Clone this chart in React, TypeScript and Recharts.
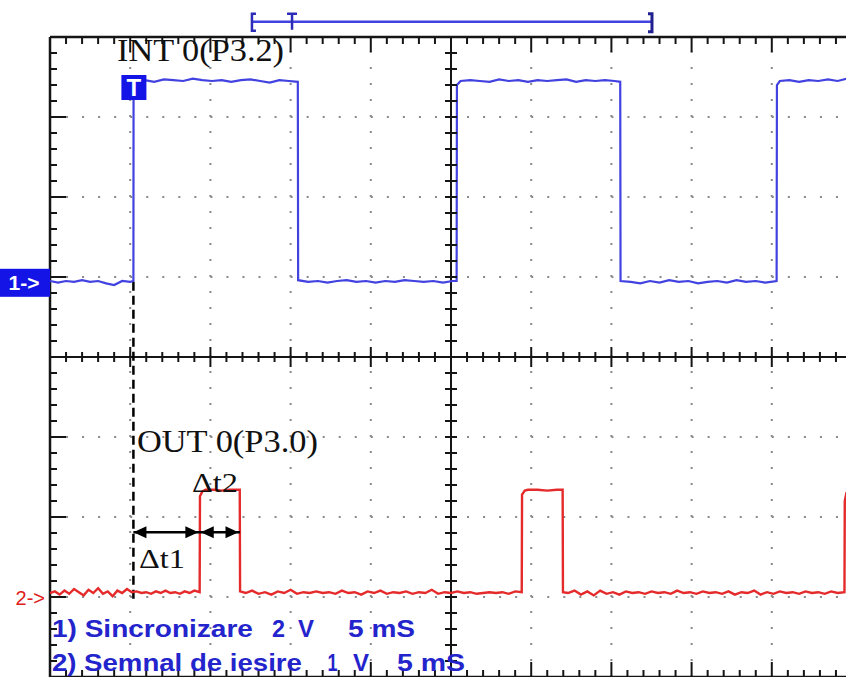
import React from 'react';
import { ComposedChart, Line, XAxis, YAxis, ReferenceLine, ReferenceDot } from 'recharts';

// Time in ms (5 ms / div), level in screen divisions (center = 0)
const ch1Time = [
  0, 0.5, 1.0, 1.5, 2.0, 2.5, 3.0, 3.5, 4.0, 4.5, 5.0, 5.2,
  5.21, 5.3, 5.9, 6.5, 7.1, 7.7, 8.3, 8.9, 9.5, 10.1, 10.7, 11.3, 11.9, 12.5, 13.1, 13.7, 14.3, 14.9, 15.45,
  15.47, 16.1, 16.7, 17.3, 17.9, 18.5, 19.1, 19.7, 20.3, 20.9, 21.5, 22.1, 22.7, 23.3, 23.9, 24.5, 25.1, 25.35,
  25.37, 25.6, 26.2, 26.8, 27.4, 28.0, 28.6, 29.2, 29.8, 30.4, 31.0, 31.6, 32.2, 32.8, 33.4, 34.0, 34.6, 35.2, 35.55,
  35.57, 36.2, 36.8, 37.4, 38.0, 38.6, 39.2, 39.8, 40.4, 41.0, 41.6, 42.2, 42.8, 43.4, 44.0, 44.6, 45.3,
  45.32, 45.5, 46.1, 46.7, 47.3, 47.9, 48.5, 49.1, 49.7, 50,
];
const ch1Level = [
  0.95, 0.93, 0.95, 0.94, 0.96, 0.94, 0.95, 0.92, 0.90, 0.95, 0.94, 0.95,
  3.42, 3.45, 3.46, 3.44, 3.47, 3.46, 3.45, 3.48, 3.46, 3.45, 3.46, 3.44, 3.46, 3.47, 3.45, 3.43, 3.46, 3.45, 3.44,
  0.96, 0.94, 0.95, 0.93, 0.95, 0.96, 0.94, 0.95, 0.93, 0.95, 0.94, 0.96, 0.95, 0.94, 0.95, 0.93, 0.95, 0.95,
  3.40, 3.45, 3.46, 3.45, 3.44, 3.47, 3.45, 3.46, 3.44, 3.46, 3.45, 3.46, 3.47, 3.44, 3.46, 3.45, 3.46, 3.45, 3.44,
  0.95, 0.94, 0.92, 0.95, 0.93, 0.96, 0.94, 0.95, 0.92, 0.94, 0.95, 0.93, 0.96, 0.94, 0.95, 0.93, 0.95,
  3.40, 3.45, 3.46, 3.44, 3.46, 3.45, 3.47, 3.45, 3.48, 3.46,
];

const ch2Time = [
  0, 0.3, 0.6, 0.9, 1.2, 1.5, 1.8, 2.1, 2.4, 2.7, 3.0, 3.3, 3.6, 3.9, 4.2, 4.5, 4.8, 5.1, 5.4, 5.7,
  6.0, 6.3, 6.6, 6.9, 7.2, 7.5, 7.8, 8.1, 8.4, 8.7, 9.0, 9.33,
  9.35, 9.5, 9.7, 10.2, 10.7, 11.2, 11.83,
  11.85, 12.2, 12.6, 13.0, 13.4, 13.8, 14.2, 14.6, 15.0, 15.4, 15.8, 16.2, 16.6, 17.0, 17.4, 17.8, 18.2,
  18.6, 19.0, 19.4, 19.8, 20.2, 20.6, 21.0, 21.4, 21.8, 22.2, 22.6, 23.0, 23.4, 23.8, 24.2, 24.6, 25.0,
  25.4, 25.8, 26.2, 26.6, 27.0, 27.4, 27.8, 28.2, 28.6, 29.0, 29.41,
  29.43, 29.6, 29.8, 30.4, 31.0, 31.6, 31.96,
  31.98, 32.3, 32.7, 33.1, 33.5, 33.9, 34.3, 34.7, 35.1, 35.5, 35.9, 36.3, 36.7, 37.1, 37.5, 37.9, 38.3,
  38.7, 39.1, 39.5, 39.9, 40.3, 40.7, 41.1, 41.5, 41.9, 42.3, 42.7, 43.1, 43.5, 43.9, 44.3, 44.7, 45.1,
  45.5, 45.9, 46.3, 46.7, 47.1, 47.5, 47.9, 48.3, 48.7, 49.1, 49.53,
  49.55, 49.65, 49.8, 50,
];
const ch2Level = [
  -2.95, -2.93, -2.97, -2.92, -2.96, -2.90, -2.94, -2.98, -2.91, -2.95, -2.89, -2.96, -2.93, -2.99, -2.92, -2.95, -2.90, -2.94, -2.93, -2.95,
  -2.94, -2.96, -2.93, -2.95, -2.92, -2.95, -2.94, -2.96, -2.93, -2.95, -2.92, -2.94,
  -1.74, -1.68, -1.66, -1.66, -1.67, -1.66, -1.66,
  -2.93, -2.95, -2.92, -2.96, -2.94, -2.97, -2.93, -2.95, -2.91, -2.96, -2.94, -2.95, -2.93, -2.95, -2.94, -2.96, -2.92,
  -2.95, -2.94, -2.97, -2.93, -2.95, -2.92, -2.96, -2.94, -2.95, -2.93, -2.96, -2.94, -2.95, -2.91, -2.96, -2.94, -2.95,
  -2.93, -2.95, -2.94, -2.96, -2.95, -2.94, -2.95, -2.94, -2.96, -2.93, -2.94,
  -1.72, -1.67, -1.66, -1.66, -1.67, -1.66, -1.66,
  -2.94, -2.95, -2.92, -2.97, -2.93, -2.98, -2.92, -2.96, -2.94, -2.97, -2.93, -2.95, -2.94, -2.96, -2.93, -2.95, -2.94,
  -2.96, -2.92, -2.95, -2.94, -2.96, -2.93, -2.95, -2.94, -2.96, -2.93, -2.97, -2.94, -2.95, -2.92, -2.97, -2.94, -2.96,
  -2.93, -2.95, -2.94, -2.96, -2.93, -2.95, -2.94, -2.96, -2.93, -2.95, -2.94,
  -1.80, -1.70, -1.68, -1.68,
];

const gridTimes = [5, 10, 15, 20, 30, 35, 40, 45];
const gridLevels = [-3, -2, -1, 1, 2, 3];
const triggerTime = 5.2;
const ch1Ground = 0.94;
const ch2Ground = -3.0;

const serifLabels = [
  { text: 'INT 0(P3.2)', t: 4.18, v: 3.70, len: 167, size: 31 },
  { text: 'OUT 0(P3.0)', t: 5.42, v: -1.19, len: 181, size: 31 },
  { text: 'Δt2', t: 8.85, v: -1.69, len: 46, size: 28 },
  { text: 'Δt1', t: 5.55, v: -2.64, len: 46, size: 28 },
];
const legendLabels = [
  { text: '1) Sincronizare', t: 0.12, v: -3.5, len: 201 },
  { text: '2', t: 13.84, v: -3.5, len: 13 },
  { text: 'V', t: 15.46, v: -3.5, len: 16 },
  { text: '5 mS', t: 18.58, v: -3.5, len: 67 },
  { text: '2) Semnal de iesire', t: 0.12, v: -3.93, len: 250 },
  { text: '1', t: 17.3, v: -3.93, len: 10 },
  { text: 'V', t: 18.89, v: -3.93, len: 16 },
  { text: '5 mS', t: 21.63, v: -3.93, len: 68 },
];
const bracket = { start: 12.59, mark: 15.09, end: 37.53, level: 4.19 };
const arrowLevel = -2.19;
const pulseStart = 9.35;
const pulseEnd = 11.85;

const ch1Data = ch1Time.map((t, i) => ({ t, v: ch1Level[i] }));
const ch2Data = ch2Time.map((t, i) => ({ t, v: ch2Level[i] }));

// graticule tick positions
const minorTimes: number[] = [];
for (let k = 1; k < 50; k++) minorTimes.push(k);
const minorLevels: number[] = [];
for (let j = -19; j < 20; j++) minorLevels.push(j / 5);

const BLUE = '#4242e0';
const RED = '#e42a2a';
const DARK = '#151515';

const tickShape = (dir: 'down' | 'up' | 'right' | 'cross-v' | 'cross-h', len: number) => (p: any) => {
  const { cx, cy } = p;
  if (cx == null || cy == null) return <g />;
  let x1 = cx, y1 = cy, x2 = cx, y2 = cy;
  if (dir === 'down') y2 = cy + len;
  if (dir === 'up') y2 = cy - len;
  if (dir === 'right') x2 = cx + len;
  if (dir === 'cross-v') { y1 = cy - len; y2 = cy + len; }
  if (dir === 'cross-h') { x1 = cx - len; x2 = cx + len; }
  return <line x1={x1} y1={y1} x2={x2} y2={y2} stroke={DARK} strokeWidth={2} />;
};

const arrowHead = (dir: 'left' | 'right') => (p: any) => {
  const { cx, cy } = p;
  const d = dir === 'left'
    ? `M${cx},${cy} L${cx + 13},${cy - 6} L${cx + 13},${cy + 6} Z`
    : `M${cx},${cy} L${cx - 13},${cy - 6} L${cx - 13},${cy + 6} Z`;
  return <path d={d} fill="#000" />;
};

export default function App() {
  return (
    <div style={{ position: 'absolute', left: 0, top: 0, width: 846, height: 677, overflow: 'hidden', background: '#fff' }}>
      <ComposedChart width={900} height={700} margin={{ left: 50, top: 37, right: 48, bottom: 23 }}>
        <XAxis type="number" dataKey="t" domain={[0, 50]} hide allowDataOverflow />
        <YAxis type="number" domain={[-4, 4]} hide allowDataOverflow />

        {gridTimes.map((t) => (
          <ReferenceLine key={'gx' + t} x={t} stroke="#8a8a8a" strokeWidth={2} strokeDasharray="2 14" />
        ))}
        {gridLevels.map((v) => (
          <ReferenceLine key={'gy' + v} y={v} stroke="#8a8a8a" strokeWidth={2} strokeDasharray="2 14.04" />
        ))}

        <ReferenceLine y={4} stroke={DARK} strokeWidth={2.5} />
        <ReferenceLine x={0} stroke={DARK} strokeWidth={2.5} />
        <ReferenceLine y={-4} stroke={DARK} strokeWidth={2.5} />
        <ReferenceLine x={50} stroke={DARK} strokeWidth={2.5} />
        <ReferenceLine y={0} stroke={DARK} strokeWidth={2} />
        <ReferenceLine x={25} stroke={DARK} strokeWidth={2} />

        {minorTimes.map((t) => (
          <ReferenceDot key={'tt' + t} x={t} y={4} r={1} ifOverflow="visible" shape={tickShape('down', t % 5 === 0 ? 15 : 7)} />
        ))}
        {minorTimes.map((t) => (
          <ReferenceDot key={'bt' + t} x={t} y={-4} r={1} ifOverflow="visible" shape={tickShape('up', t % 5 === 0 ? 15 : 7)} />
        ))}
        {minorTimes.map((t) => (
          <ReferenceDot key={'ct' + t} x={t} y={0} r={1} ifOverflow="visible" shape={tickShape('cross-v', t % 5 === 0 ? 10 : 5)} />
        ))}
        {minorLevels.map((v) => (
          <ReferenceDot key={'lt' + v} x={0} y={v} r={1} ifOverflow="visible" shape={tickShape('right', Math.abs(v * 5) % 5 === 0 ? 16 : 7)} />
        ))}
        {minorLevels.map((v) => (
          <ReferenceDot key={'cv' + v} x={25} y={v} r={1} ifOverflow="visible" shape={tickShape('cross-h', 6)} />
        ))}

        <ReferenceLine
          segment={[{ x: triggerTime, y: ch1Ground }, { x: triggerTime, y: -3.04 }]}
          stroke="#000" strokeWidth={2.5} strokeDasharray="9 5" ifOverflow="visible"
        />

        <Line data={ch1Data} dataKey="v" type="linear" stroke={BLUE} strokeWidth={2.2} dot={false} isAnimationActive={false} />
        <Line data={ch2Data} dataKey="v" type="linear" stroke={RED} strokeWidth={2.4} dot={false} isAnimationActive={false} />

        {/* Δt arrows */}
        <ReferenceLine segment={[{ x: triggerTime, y: arrowLevel }, { x: pulseEnd, y: arrowLevel }]} stroke="#000" strokeWidth={2.5} ifOverflow="visible" />
        <ReferenceDot x={triggerTime} y={arrowLevel} r={1} ifOverflow="visible" shape={arrowHead('left')} />
        <ReferenceDot x={pulseStart - 0.1} y={arrowLevel} r={1} ifOverflow="visible" shape={arrowHead('right')} />
        <ReferenceDot x={pulseStart + 0.05} y={arrowLevel} r={1} ifOverflow="visible" shape={arrowHead('left')} />
        <ReferenceDot x={pulseEnd - 0.1} y={arrowLevel} r={1} ifOverflow="visible" shape={arrowHead('right')} />

        {/* top bracket */}
        <ReferenceLine segment={[{ x: bracket.start, y: bracket.level }, { x: bracket.end, y: bracket.level }]} stroke={BLUE} strokeWidth={2.5} ifOverflow="visible" />
        <ReferenceDot x={bracket.start} y={bracket.level} r={1} ifOverflow="visible" shape={(p: any) => (
          <path d={`M${p.cx + 4},${p.cy - 8} L${p.cx},${p.cy - 8} L${p.cx},${p.cy + 9} L${p.cx + 4},${p.cy + 9}`} fill="none" stroke="#2b2bb8" strokeWidth={2.5} />
        )} />
        <ReferenceDot x={bracket.mark} y={bracket.level} r={1} ifOverflow="visible" shape={(p: any) => (
          <path d={`M${p.cx - 5},${p.cy - 8} L${p.cx + 5},${p.cy - 8} M${p.cx},${p.cy - 8} L${p.cx},${p.cy + 8}`} fill="none" stroke="#2b2bb8" strokeWidth={2.5} />
        )} />
        <ReferenceDot x={bracket.end} y={bracket.level} r={1} ifOverflow="visible" shape={(p: any) => (
          <path d={`M${p.cx - 4},${p.cy - 8} L${p.cx},${p.cy - 8} L${p.cx},${p.cy + 10} L${p.cx - 4},${p.cy + 10}`} fill="none" stroke="#1f1f90" strokeWidth={3} />
        )} />

        {/* trigger marker */}
        <ReferenceDot x={triggerTime} y={3.375} r={1} ifOverflow="visible" shape={(p: any) => (
          <g>
            <rect x={p.cx - 12} y={p.cy - 12} width={25} height={25} fill="#1414e6" />
            <text x={p.cx + 0.5} y={p.cy + 9} textAnchor="middle" fill="#fff" fontFamily="Liberation Sans, Arial, sans-serif" fontWeight="bold" fontSize={24}>T</text>
          </g>
        )} />

        {/* channel markers */}
        <ReferenceDot x={0} y={ch1Ground} r={1} ifOverflow="visible" shape={(p: any) => (
          <g>
            <rect x={p.cx - 50} y={p.cy - 13} width={50} height={28} fill="#1414e6" />
            <text x={p.cx - 26} y={p.cy + 8} textAnchor="middle" fill="#fff" fontFamily="Liberation Sans, Arial, sans-serif" fontWeight="bold" fontSize={21}>1-&gt;</text>
          </g>
        )} />
        <ReferenceDot x={0} y={ch2Ground} r={1} ifOverflow="visible" shape={(p: any) => (
          <text x={p.cx - 5} y={p.cy + 8} textAnchor="end" fill="#e01c1c" fontFamily="Liberation Sans, Arial, sans-serif" fontSize={20}>2-&gt;</text>
        )} />

        {serifLabels.map((l) => (
          <ReferenceDot key={l.text} x={l.t} y={l.v} r={1} ifOverflow="visible" shape={(p: any) => (
            <text x={p.cx} y={p.cy} fill="#111" fontFamily="Liberation Serif, Times New Roman, serif" fontSize={l.size} textLength={l.len} lengthAdjust="spacingAndGlyphs">{l.text}</text>
          )} />
        ))}
        {legendLabels.map((l, i) => (
          <ReferenceDot key={'lg' + i} x={l.t} y={l.v} r={1} ifOverflow="visible" shape={(p: any) => (
            <text x={p.cx} y={p.cy} fill="#2424cc" fontFamily="Liberation Sans, Arial, sans-serif" fontWeight="bold" fontSize={24} textLength={l.len} lengthAdjust="spacingAndGlyphs">{l.text}</text>
          )} />
        ))}
      </ComposedChart>
    </div>
  );
}
